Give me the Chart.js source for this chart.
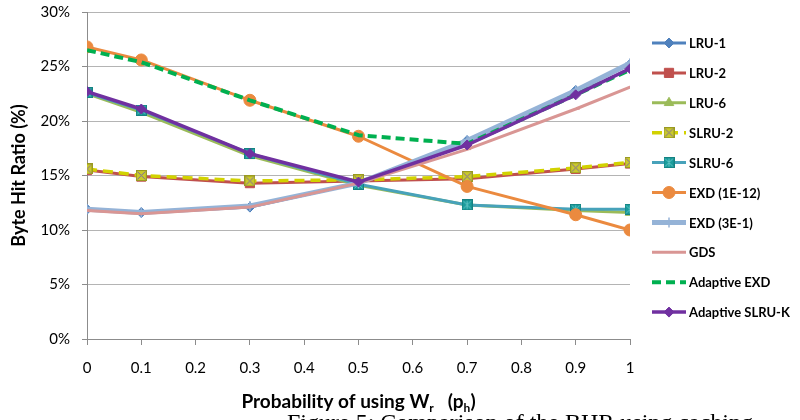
<!DOCTYPE html>
<html>
<head>
<meta charset="utf-8">
<style>
  html, body { margin: 0; padding: 0; background: #ffffff; }
  #wrap { width: 800px; height: 420px; position: relative; }
</style>
<script src="https://cdn.jsdelivr.net/npm/chart.js@4.4.1/dist/chart.umd.min.js"></script>
</head>
<body>
<div id="wrap"><canvas id="c" width="800" height="420"></canvas></div>
<script>
// ---- data ----
const xValues = [0, 0.1, 0.3, 0.5, 0.7, 0.9, 1];
const seriesNames = ["LRU-1", "LRU-2", "LRU-6", "SLRU-2", "SLRU-6", "EXD (1E-12)", "EXD (3E-1)", "GDS", "Adaptive EXD", "Adaptive SLRU-K"];
const lru1 = [11.9, 11.6, 12.1, 14.3, 18.2, 22.8, 25.2];
const lru2 = [15.5, 14.9, 14.3, 14.5, 14.7, 15.6, 16.1];
const lru6 = [22.5, 20.8, 16.8, 14.1, 12.3, 11.8, 11.6];
const slru2 = [15.6, 15.0, 14.5, 14.6, 14.9, 15.7, 16.2];
const slru6 = [22.6, 21.0, 17.0, 14.2, 12.3, 11.9, 11.9];
const exd1e12 = [26.8, 25.6, 21.9, 18.6, 14.0, 11.4, 10.0];
const exd3e1 = [11.9, 11.6, 12.2, 14.3, 18.2, 22.8, 25.3];
const gds = [11.8, 11.5, 12.1, 14.3, 17.4, 21.1, 23.1];
const adaptiveExd = [26.5, 25.4, 21.9, 18.7, 17.9, 22.4, 24.7];
const adaptiveSlruK = [22.7, 21.1, 17.0, 14.4, 17.8, 22.4, 24.8];
const yTicks = [0, 5, 10, 15, 20, 25, 30];
const xTicks = [0, 0.1, 0.2, 0.3, 0.4, 0.5, 0.6, 0.7, 0.8, 0.9, 1];

// ---- custom markers ----
function makeMarker(size, fill, stroke, crossColor, star) {
  const c = document.createElement('canvas');
  c.width = size; c.height = size;
  const g = c.getContext('2d');
  g.fillStyle = fill;
  g.fillRect(0, 0, size, size);
  g.strokeStyle = stroke;
  g.lineWidth = 1;
  g.strokeRect(0.5, 0.5, size - 1, size - 1);
  g.strokeStyle = crossColor;
  g.lineWidth = 1;
  g.beginPath();
  g.moveTo(1.5, 1.5); g.lineTo(size - 1.5, size - 1.5);
  g.moveTo(size - 1.5, 1.5); g.lineTo(1.5, size - 1.5);
  if (star) {
    g.moveTo(size / 2, 1.5); g.lineTo(size / 2, size - 1.5);
  }
  g.stroke();
  return c;
}
const slru2Marker = makeMarker(11, '#C9C92A', '#9A9A20', '#7F6AA0', false);
const slru6Marker = makeMarker(11, '#1A9C9C', '#148282', '#5FC4C4', true);

const styles = [
  { color: '#4F81BD', width: 3, dash: [], point: 'rectRot', r: 5, fill: '#4F81BD' },
  { color: '#C0504D', width: 3, dash: [], point: 'rect', r: 6.5, fill: '#C0504D' },
  { color: '#9BBB59', width: 3, dash: [], point: 'triangle', r: 5.5, fill: '#9BBB59' },
  { color: '#D2D200', width: 3.5, dash: [10, 6], point: slru2Marker, r: 6, fill: '#C9C92A' },
  { color: '#47A2BA', width: 3, dash: [], point: slru6Marker, r: 6, fill: '#1A9C9C' },
  { color: '#EB8A3F', width: 3, dash: [], point: 'circle', r: 6, fill: '#EB8A3F' },
  { color: '#95B3D7', width: 5, dash: [], point: 'cross', r: 5, fill: '#95B3D7' },
  { color: '#D99694', width: 3, dash: [], point: 'dash', r: 4, fill: '#D99694' },
  { color: '#00B050', width: 4, dash: [9, 5], point: false, r: 0, fill: '#00B050' },
  { color: '#7030A0', width: 3.5, dash: [], point: 'rectRot', r: 5, fill: '#7030A0' }
];
const seriesValues = [lru1, lru2, lru6, slru2, slru6, exd1e12, exd3e1, gds, adaptiveExd, adaptiveSlruK];

const datasets = seriesValues.map((vals, i) => {
  const s = styles[i];
  return {
    label: seriesNames[i],
    data: vals.map((v, j) => ({ x: xValues[j], y: v })),
    borderColor: s.color,
    backgroundColor: s.fill,
    borderWidth: s.width,
    borderDash: s.dash,
    borderJoinStyle: 'round',
    borderCapStyle: s.dash.length ? 'butt' : 'round',
    pointStyle: s.point,
    pointRadius: s.r,
    pointBorderColor: s.point === 'cross' || s.point === 'dash' ? s.color : s.fill,
    pointBackgroundColor: s.fill,
    pointBorderWidth: s.point === 'cross' || s.point === 'dash' ? 1.5 : 1,
    tension: 0,
    fill: false,
    order: seriesNames.length - i
  };
});

const FONT = 'Lato, "Open Sans", "Liberation Sans", sans-serif';

// ---- plugin: titles, legend, caption ----
const decorations = {
  id: 'decorations',
  afterDraw(chart) {
    const ctx = chart.ctx;
    const area = chart.chartArea;
    ctx.save();
    ctx.fillStyle = '#000000';
    // y title
    ctx.font = 'bold 18px ' + FONT;
    ctx.textAlign = 'center';
    ctx.textBaseline = 'middle';
    ctx.translate(19, (area.top + area.bottom) / 2);
    ctx.rotate(-Math.PI / 2);
    ctx.fillText('Byte Hit Ratio (%)', 0, 0);
    ctx.restore();

    // caption (cut off by the bottom edge)
    ctx.save();
    ctx.fillStyle = '#000000';
    ctx.font = '24px "Liberation Serif", "Times New Roman", serif';
    ctx.textAlign = 'left';
    ctx.textBaseline = 'alphabetic';
    ctx.fillText('Figure 5: Comparison of the BHR using caching', 287, 430);
    ctx.restore();

    // x title with subscripts
    ctx.save();
    ctx.fillStyle = '#000000';
    ctx.textBaseline = 'alphabetic';
    ctx.textAlign = 'left';
    const parts = [
      { t: 'Probability of using W', sub: false },
      { t: 'r', sub: true },
      { t: '   (p', sub: false },
      { t: 'h', sub: true },
      { t: ')', sub: false }
    ];
    const mainF = 'bold 19px ' + FONT, subF = 'bold 12px ' + FONT;
    let total = 0;
    parts.forEach(p => { ctx.font = p.sub ? subF : mainF; p.w = ctx.measureText(p.t).width; total += p.w; });
    let x = (area.left + area.right) / 2 - total / 2;
    const base = 408;
    parts.forEach(p => {
      ctx.font = p.sub ? subF : mainF;
      ctx.fillText(p.t, x, p.sub ? base + 4 : base);
      x += p.w;
    });
    ctx.restore();

    // legend
    ctx.save();
    const lx0 = 652, lx1 = 686, ly0 = 43, lstep = 29.9;
    chart.data.datasets.forEach((ds, i) => {
      const y = ly0 + i * lstep;
      ctx.save();
      ctx.strokeStyle = ds.borderColor;
      ctx.lineWidth = ds.borderWidth;
      ctx.setLineDash(ds.borderDash || []);
      ctx.lineCap = 'butt';
      ctx.beginPath();
      ctx.moveTo(lx0, y);
      ctx.lineTo(lx1, y);
      ctx.stroke();
      ctx.setLineDash([]);
      if (ds.pointStyle) {
        ctx.fillStyle = ds.pointBackgroundColor;
        ctx.strokeStyle = ds.pointBorderColor;
        ctx.lineWidth = ds.pointBorderWidth;
        Chart.helpers.drawPoint(ctx, {
          pointStyle: ds.pointStyle,
          radius: ds.pointRadius,
          rotation: 0,
          borderWidth: ds.pointBorderWidth
        }, (lx0 + lx1) / 2, y);
      }
      ctx.restore();
      ctx.fillStyle = '#000000';
      ctx.font = 'bold 13px ' + FONT;
      ctx.textAlign = 'left';
      ctx.textBaseline = 'middle';
      ctx.fillText(ds.label, 689, y + 1);
    });
    ctx.restore();
  }
};

new Chart(document.getElementById('c'), {
  type: 'line',
  data: { datasets },
  options: {
    responsive: false,
    animation: false,
    devicePixelRatio: 1,
    layout: { padding: { left: 0, right: 170, top: 12, bottom: 0 } },
    plugins: { legend: { display: false }, tooltip: { enabled: false }, title: { display: false } },
    scales: {
      x: {
        type: 'linear',
        min: 0,
        max: 1,
        afterBuildTicks(scale) { scale.ticks = xTicks.map(v => ({ value: v })); },
        afterFit(scale) { scale.height = 81; scale.paddingLeft = 0; scale.paddingRight = 0; },
        grid: { drawOnChartArea: false, drawTicks: true, tickLength: 6, tickColor: '#8C8C8C', tickWidth: 1 },
        border: { display: true, color: '#8C8C8C', width: 1 },
        ticks: {
          padding: 14,
          color: '#000000',
          font: { family: FONT, size: 15 },
          maxRotation: 0,
          autoSkip: false,
          callback: v => String(Number(v.toFixed(1)))
        },
        title: { display: false }
      },
      y: {
        min: 0,
        max: 30,
        afterBuildTicks(scale) { scale.ticks = yTicks.map(v => ({ value: v })); },
        afterFit(scale) { scale.width = 87; scale.paddingTop = 0; scale.paddingBottom = 0; },
        grid: { color: '#B4B4B4', lineWidth: 1, drawTicks: true, tickLength: 5, tickColor: '#8C8C8C' },
        border: { display: true, color: '#8C8C8C', width: 1 },
        ticks: {
          padding: 12,
          color: '#000000',
          font: { family: FONT, size: 15 },
          callback: v => v + '%'
        },
        title: { display: false }
      }
    }
  },
  plugins: [decorations]
});
</script>
</body>
</html>
